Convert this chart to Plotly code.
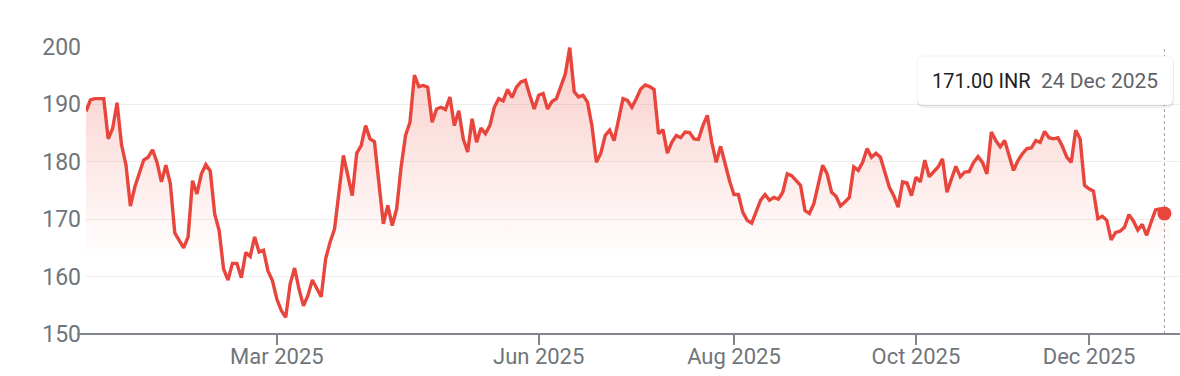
import pandas as pd
import plotly.graph_objects as go

# ---------------- data ----------------
START_DATE = "2024-12-31"
END_DATE = "2025-12-26"
HOLIDAYS = ["2025-02-26", "2025-03-14", "2025-03-31", "2025-04-10", "2025-04-14",
            "2025-04-18", "2025-05-01", "2025-08-15", "2025-08-27", "2025-10-02",
            "2025-10-21", "2025-10-22", "2025-11-05", "2025-12-25"]

PRICES = [
    188.8, 190.8, 191.0, 191.0, 191.0, 184.0, 185.8, 190.3, 183.0, 179.5,
    172.3, 175.6, 177.9, 180.3, 180.8, 182.1, 179.9, 176.5, 179.4, 176.2,
    167.6, 166.2, 165.0, 166.9, 176.7, 174.4, 177.9, 179.5, 178.4, 170.9,
    168.0, 161.3, 159.4, 162.3, 162.3, 159.8, 164.2, 163.5, 166.9, 164.3,
    164.6, 161.0, 159.3, 156.1, 154.1, 152.9, 158.7, 161.5, 157.8, 154.9,
    156.7, 159.4, 157.8, 156.5, 163.1, 166.0, 168.3, 174.7, 181.1, 177.6,
    174.1, 181.5, 182.8, 186.3, 184.0, 183.5, 176.7, 169.2, 172.4, 168.9,
    171.8, 179.1, 184.6, 186.9, 195.1, 193.1, 193.3, 193.0, 186.9, 189.2,
    189.5, 189.1, 191.3, 186.3, 188.9, 184.0, 181.7, 187.5, 183.4, 185.9,
    184.9, 186.3, 189.5, 191.0, 190.6, 192.6, 191.2, 193.0, 193.9, 194.2,
    191.6, 189.2, 191.6, 191.9, 189.2, 190.5, 191.0, 193.0, 195.3, 199.9,
    192.2, 191.3, 191.6, 190.4, 186.3, 179.9, 181.5, 184.6, 185.5, 183.7,
    187.2, 191.0, 190.7, 189.5, 191.0, 192.7, 193.4, 193.1, 192.6, 184.9,
    185.6, 181.5, 183.4, 184.6, 184.2, 185.2, 185.1, 184.0, 183.9, 186.3,
    188.1, 183.4, 179.9, 182.7, 179.7, 176.7, 174.3, 174.3, 171.2, 169.8,
    169.3, 171.2, 173.3, 174.3, 173.3, 173.8, 173.5, 174.7, 177.9, 177.6,
    176.7, 175.9, 171.5, 171.0, 172.7, 175.9, 179.4, 177.9, 174.7, 174.0,
    172.3, 173.0, 173.8, 179.1, 178.5, 179.9, 182.3, 180.8, 181.5, 180.8,
    178.2, 175.6, 174.1, 172.1, 176.5, 176.3, 174.1, 177.3, 176.5, 180.3,
    177.4, 178.2, 179.1, 180.5, 174.7, 177.0, 179.2, 177.4, 178.2, 178.3,
    179.9, 180.9, 179.9, 177.9, 185.2, 183.7, 182.6, 183.7, 181.1, 178.5,
    180.2, 181.4, 182.3, 182.4, 183.7, 183.4, 185.3, 184.2, 184.0, 184.2,
    182.7, 180.8, 179.9, 185.5, 184.0, 175.9, 175.3, 174.9, 170.1, 170.5,
    169.8, 166.4, 167.7, 167.9, 168.6, 170.8, 169.7, 168.1, 169.1, 167.2,
    169.5, 171.6, 171.8, 171.0, 170.2,
]

TICK_DATES = ["2025-03-03", "2025-06-02", "2025-08-01", "2025-10-01", "2025-12-01"]
TICK_LABELS = ["Mar 2025", "Jun 2025", "Aug 2025", "Oct 2025", "Dec 2025"]
Y_TICKS = [150, 160, 170, 180, 190, 200]

HIGHLIGHT_DATE = "2025-12-24"
HIGHLIGHT_PRICE_TEXT = "171.00 INR"
HIGHLIGHT_DATE_TEXT = "24 Dec 2025"

DATES = [d.strftime("%Y-%m-%d") for d in pd.bdate_range(START_DATE, END_DATE)
         if d.strftime("%Y-%m-%d") not in HOLIDAYS]
assert len(DATES) == len(PRICES), (len(DATES), len(PRICES))
hi_idx = DATES.index(HIGHLIGHT_DATE)

# ---------------- style / layout ----------------
W, H = 1180, 376
ML, MR, MT, MB = 86, 0, 47, 42
PW, PH = W - ML - MR, H - MT - MB
RED = "#e8453c"
FONT = "Roboto"


def px_x(p):
    return (p - ML) / PW


def px_y(p):
    return (H - MB - p) / PH


fig = go.Figure()
fig.add_trace(go.Scatter(
    x=DATES, y=PRICES, mode="lines",
    line=dict(color=RED, width=3.4),
    fill="tozeroy",
    fillgradient=dict(type="vertical", start=163, stop=200,
                      colorscale=[[0, "rgba(234,67,53,0)"], [1, "rgba(234,67,53,0.27)"]]),
    hoverinfo="skip",
))
fig.add_trace(go.Scatter(
    x=[DATES[hi_idx]], y=[PRICES[hi_idx]], mode="markers",
    marker=dict(color=RED, size=14), hoverinfo="skip",
))


def rrect(x0, y0, x1, y1, r):
    # pixel coords -> paper coords rounded rect path
    rx, ry = r / PW, r / PH
    X0, X1 = px_x(x0), px_x(x1)
    Yt, Yb = px_y(y0), px_y(y1)
    return (f"M {X0+rx},{Yt} L {X1-rx},{Yt} Q {X1},{Yt} {X1},{Yt-ry} "
            f"L {X1},{Yb+ry} Q {X1},{Yb} {X1-rx},{Yb} L {X0+rx},{Yb} "
            f"Q {X0},{Yb} {X0},{Yb+ry} L {X0},{Yt-ry} Q {X0},{Yt} {X0+rx},{Yt} Z")


shapes = [
    # dotted cursor line
    dict(type="line", xref="x", yref="paper", x0=hi_idx, x1=hi_idx, y0=0, y1=1.0,
         line=dict(color="#9aa0a6", width=1, dash="dot"), layer="below"),
    # axis baseline extended to the left
    dict(type="line", xref="paper", yref="paper", x0=px_x(77), x1=1, y0=0, y1=0,
         line=dict(color="#80868b", width=2), layer="above"),
    # tooltip shadow + box
    dict(type="path", xref="paper", yref="paper", path=rrect(917, 58, 1174, 108, 7),
         fillcolor="rgba(0,0,0,0.06)", line=dict(width=0), layer="above"),
    dict(type="path", xref="paper", yref="paper", path=rrect(917, 57, 1173, 106, 6),
         fillcolor="rgba(0,0,0,0.08)", line=dict(width=0), layer="above"),
    dict(type="path", xref="paper", yref="paper", path=rrect(917, 56, 1173, 105, 6),
         fillcolor="white", line=dict(color="rgba(0,0,0,0.05)", width=1), layer="above"),
]

annotations = [
    dict(xref="paper", yref="paper", x=px_x(930), y=px_y(80.5), xanchor="left", yanchor="middle",
         text=HIGHLIGHT_PRICE_TEXT, showarrow=False,
         font=dict(family=FONT, size=20, color="#202124")),
    dict(xref="paper", yref="paper", x=px_x(1039), y=px_y(80.5), xanchor="left", yanchor="middle",
         text=HIGHLIGHT_DATE_TEXT, showarrow=False,
         font=dict(family=FONT, size=21, color="#5f6368")),
]

fig.update_layout(
    width=W, height=H,
    margin=dict(l=ML, r=MR, t=MT, b=MB, pad=0),
    paper_bgcolor="white", plot_bgcolor="white",
    showlegend=False,
    shapes=shapes, annotations=annotations,
    font=dict(family=FONT, color="#70757a"),
    xaxis=dict(
        type="category", range=[0, PW / 4.438],
        tickmode="array", tickvals=TICK_DATES, ticktext=TICK_LABELS,
        ticks="outside", ticklen=10, tickwidth=1.5, tickcolor="#80868b",
        ticklabelstandoff=-7,
        showgrid=False, showline=False, zeroline=False,
        tickfont=dict(family=FONT, size=22, color="#70757a"),
        fixedrange=True,
    ),
    yaxis=dict(
        range=[150, 200], tickvals=Y_TICKS,
        showgrid=True, gridcolor="#eeeeee", gridwidth=1,
        zeroline=False, showline=False, ticks="",
        ticklabelstandoff=4,
        tickfont=dict(family=FONT, size=23, color="#70757a"),
        fixedrange=True,
    ),
)

fig.write_html("out.html")
